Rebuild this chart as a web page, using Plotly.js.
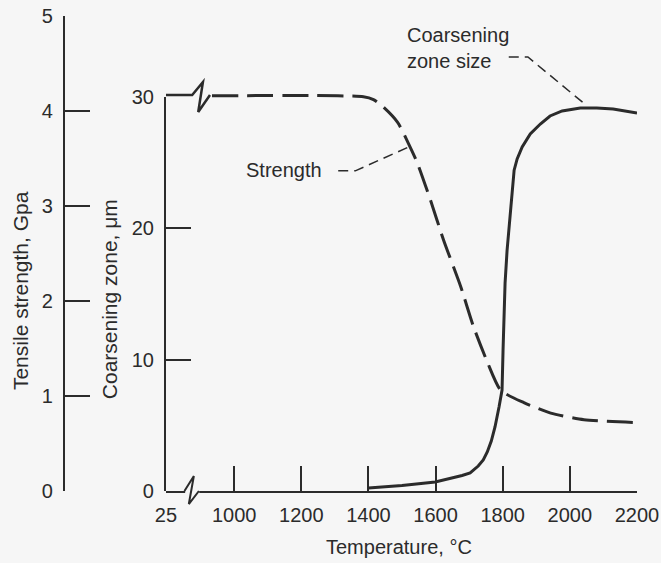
<!DOCTYPE html>
<html>
<head>
<meta charset="utf-8">
<script src="https://cdn.plot.ly/plotly-3.0.1.min.js"></script>
<style>
html,body{margin:0;padding:0;background:#f6f6f6;}
#chart{width:661px;height:563px;}
</style>
</head>
<body>
<div id="chart"></div>
<script>
// Strength curve (GPa vs temperature °C)
var strengthTemp = [934, 1385, 1415, 1445, 1487, 1519, 1546, 1585, 1624, 1675, 1713, 1755, 1794, 1863, 1943, 2042, 2200];
var strengthGPa  = [4.16, 4.15, 4.12, 4.04, 3.88, 3.66, 3.45, 3.06, 2.64, 2.15, 1.73, 1.35, 1.06, 0.93, 0.82, 0.75, 0.72];

// Coarsening zone size (µm vs temperature °C)
var coarseTemp = [1400, 1500, 1599, 1652, 1679, 1703, 1715, 1727, 1742, 1754, 1766, 1777, 1789, 1798, 1801, 1807, 1813, 1822, 1828, 1834, 1843, 1858, 1882, 1912, 1941, 1977, 2031, 2080, 2129, 2200];
var coarseUm   = [0.23, 0.42, 0.68, 1.0, 1.18, 1.37, 1.60, 1.90, 2.36, 2.97, 3.8, 4.87, 6.39, 7.68, 10.7, 15.8, 18.3, 21.0, 22.9, 24.4, 25.25, 26.16, 27.15, 27.91, 28.52, 28.9, 29.13, 29.12, 29.05, 28.75];

// Axis ticks
var xTickVals = [797, 1000, 1200, 1400, 1600, 1800, 2000, 2200];
var xTickText = ['25', '1000', '1200', '1400', '1600', '1800', '2000', '2200'];
var gpaTicks = [0, 1, 2, 3, 4, 5];
var umTicks = [0, 10, 20, 30];
var xRange = [797, 2200];

var ink = '#2b2b2b';
var fontFam = 'Liberation Sans, Arial, Helvetica, sans-serif';

var traces = [
  {
    x: strengthTemp, y: strengthGPa, xaxis: 'x', yaxis: 'y',
    type: 'scatter', mode: 'lines', line: {color: ink, width: 3, dash: '26px,9px', shape: 'spline', smoothing: 0.6},
    hoverinfo: 'skip', showlegend: false
  },
  {
    x: coarseTemp, y: coarseUm, xaxis: 'x', yaxis: 'y2',
    type: 'scatter', mode: 'lines', line: {color: ink, width: 3, shape: 'linear'},
    hoverinfo: 'skip', showlegend: false
  }
];

var axisCommon = {
  showgrid: false, zeroline: false, showline: true, linecolor: ink, linewidth: 2,
  ticks: 'inside', ticklen: 25, tickwidth: 2, tickcolor: ink,
  tickfont: {family: fontFam, size: 20, color: ink}
};

var layout = {
  width: 661, height: 563,
  margin: {l: 10, r: 24, t: 16, b: 72},
  paper_bgcolor: '#f6f6f6', plot_bgcolor: 'rgba(0,0,0,0)',
  font: {family: fontFam, size: 20, color: ink},
  xaxis: Object.assign({}, axisCommon, {
    domain: [0.2488, 1], range: xRange, anchor: 'y',
    tickmode: 'array', tickvals: xTickVals, ticktext: xTickText,
    ticklabelstandoff: 5
  }),
  yaxis: Object.assign({}, axisCommon, {
    domain: [0, 1], range: [0, 5], anchor: 'free', position: 0.0861, side: 'left',
    tickmode: 'array', tickvals: gpaTicks, ticklabelstandoff: 6
  }),
  yaxis2: Object.assign({}, axisCommon, {
    domain: [0, 0.8305], range: [0, 30], anchor: 'x', side: 'left',
    tickmode: 'array', tickvals: umTicks, ticklabelstandoff: 6
  }),
  shapes: [
    // top break on strength line
    {type: 'path', xref: 'x', yref: 'y', layer: 'above',
     path: 'M797,4.168 L875,4.168 L907,4.305 L893,3.99 L928,4.168',
     line: {color: ink, width: 2.5}},
    // cover x-axis line under bottom break
    {type: 'line', xref: 'x', yref: 'paper', layer: 'above',
     x0: 854, x1: 896, y0: 0, y1: 0, line: {color: '#f6f6f6', width: 5}},
    // bottom break on x axis
    {type: 'path', xref: 'x', yref: 'paper', layer: 'above',
     path: 'M852,0 L880,0.0316 L865,-0.0274 L895,0',
     line: {color: ink, width: 2}},
    // leader for Strength
    {type: 'path', xref: 'x', yref: 'y', layer: 'above',
     path: 'M1310,3.37 L1361,3.37 L1519,3.62',
     line: {color: ink, width: 1.5, dash: '10px,6px'}},
    // leader for Coarsening zone size
    {type: 'path', xref: 'x', yref: 'y', layer: 'above',
     path: 'M1818,4.568 L1875,4.568 L2048,4.063',
     line: {color: ink, width: 1.5, dash: '10px,6px'}}
  ],
  annotations: [
    {text: 'Strength', xref: 'x', yref: 'y', x: 1149, y: 3.38, showarrow: false,
     xanchor: 'center', yanchor: 'middle', font: {size: 20}},
    {text: 'Coarsening<br>zone size', xref: 'x', yref: 'y', x: 1510, y: 4.668, showarrow: false,
     xanchor: 'left', yanchor: 'middle', align: 'left', font: {size: 20}},
    {text: 'Tensile strength, Gpa', xref: 'paper', yref: 'paper', x: 0.016, y: 0.421,
     textangle: -90, showarrow: false, xanchor: 'center', yanchor: 'middle', font: {size: 21}},
    {text: 'Coarsening zone, \u03bcm', xref: 'paper', yref: 'paper', x: 0.158, y: 0.404,
     textangle: -90, showarrow: false, xanchor: 'center', yanchor: 'middle', font: {size: 21}},
    {text: 'Temperature, \u00b0C', xref: 'paper', yref: 'paper', x: 0.6204, y: -0.118,
     showarrow: false, xanchor: 'center', yanchor: 'middle', font: {size: 20}}
  ]
};

Plotly.newPlot('chart', traces, layout, {displayModeBar: false, staticPlot: true});
</script>
</body>
</html>
